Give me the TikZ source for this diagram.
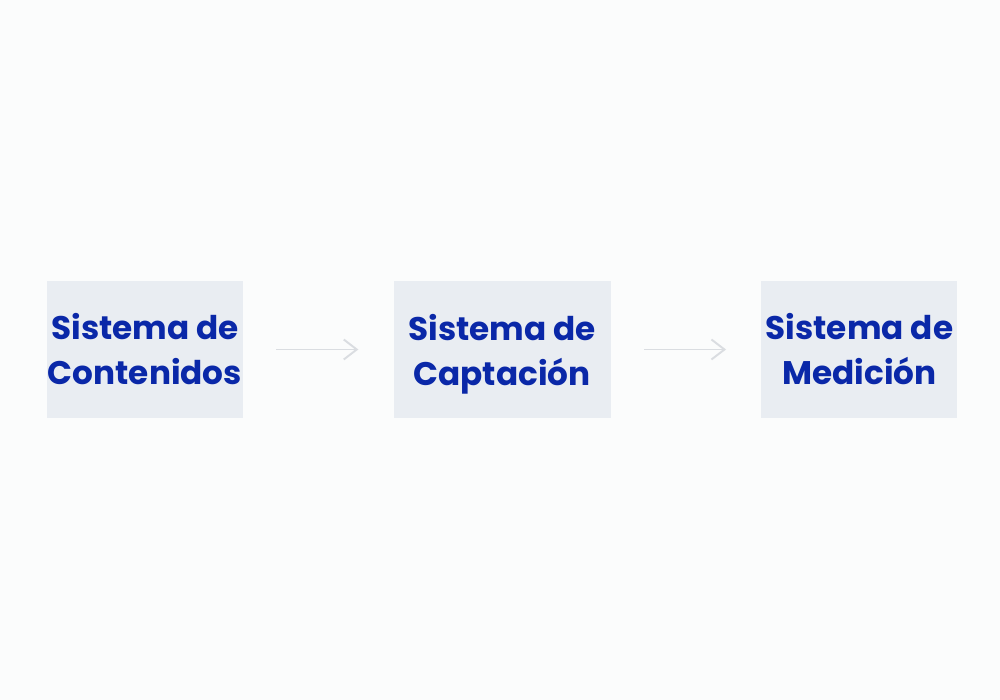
\documentclass[tikz,border=0pt]{standalone}
\usepackage{fontspec}
\setmainfont{Poppins}
\usepackage{tikz}
\usetikzlibrary{positioning, arrows.meta}
\definecolor{pagebg}{RGB}{251,252,252}
\definecolor{boxbg}{RGB}{233,237,242}
\definecolor{boxtext}{RGB}{10,40,168}
\definecolor{arrowgray}{RGB}{218,221,225}
\tikzset{>={Straight Barb[length=2.6mm, width=4mm]}}
\tikzset{sysbox/.style={fill=boxbg, text=boxtext, align=center, inner sep=0pt,
  minimum width=3.92cm, minimum height=2.74cm,
  font=\fontsize{18.6}{25.6}\selectfont\bfseries}}

\begin{document}
\begin{tikzpicture}[node distance=3cm]
\fill[pagebg] (0,0) rectangle (20,14);
\useasboundingbox (0,0) rectangle (20,14);
\node[sysbox] (contenidos) at (2.9,7.01) {Sistema de\\ Contenidos};
\node[sysbox, minimum width=4.34cm, right=of contenidos] (captacion) {Sistema de\\ \raisebox{0pt}[\height][0pt]{Captación}};
\node[sysbox, right=of captacion] (medicion) {Sistema de\\ Medición};
\path[->, arrowgray, line width=1.1pt, shorten <=0.66cm, shorten >=0.7cm]
(contenidos) edge (captacion)
(captacion) edge (medicion)
;
\end{tikzpicture}
\end{document}
